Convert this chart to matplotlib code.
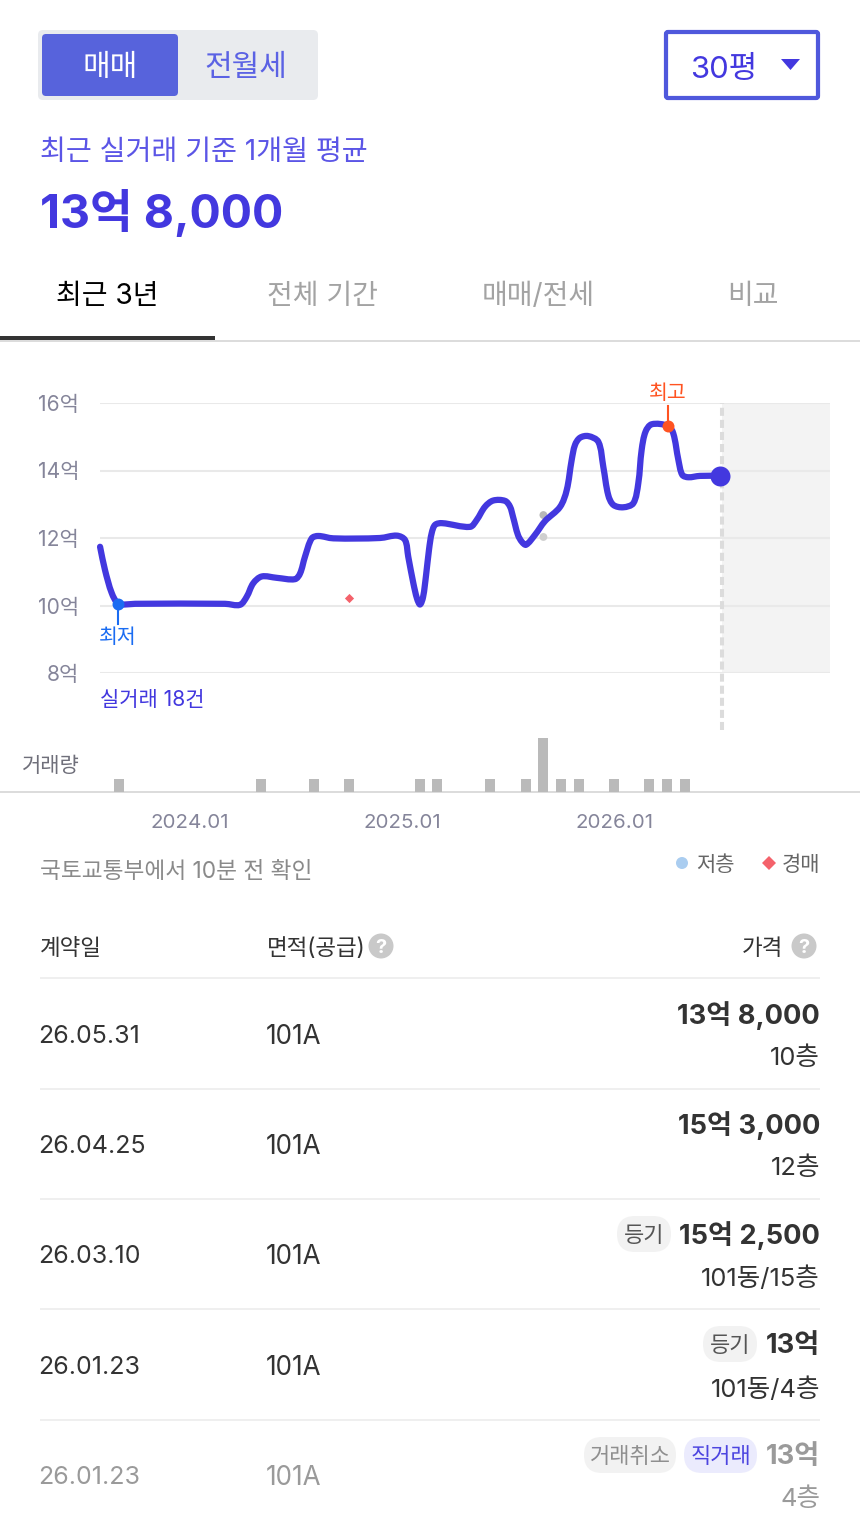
"""Apartment price panel: header, 3-year price line, volume bars, deal table."""
import matplotlib
matplotlib.use("Agg")
import matplotlib.pyplot as plt
from matplotlib.patches import Circle, FancyBboxPatch, PathPatch, Polygon, Rectangle
from matplotlib.path import Path

# Inter for digits and latin, the CJK family picks up the hangul
plt.rcParams["font.family"] = ["Inter", "Noto Sans CJK KR", "DejaVu Sans"]

# months are counted from 2024.01 = 0
curve_months = [-5.09, -4.81, -4.43, -4.07, -3.68, -3.11, 1.98, 2.83, 3.21, 3.58, 4.06, 4.91, 5.94,
                6.23, 6.51, 6.89, 7.26, 8.11, 10.75, 11.71, 12.17, 12.35, 12.64, 12.85, 13.02,
                13.19, 13.36, 13.53, 13.68, 13.87, 14.26, 15.85, 16.22, 16.70, 17.16, 17.83,
                18.11, 18.28, 18.56, 18.79, 19.02, 19.52, 20.09, 20.94, 21.32, 21.60, 21.79,
                22.07, 22.54, 23.11, 23.39, 23.67, 23.96, 24.52, 25.09, 25.37, 25.56, 25.78,
                26.13, 27.05, 27.35, 27.64, 27.86, 28.20, 28.86, 30.0]
curve_values = [11.74, 11.05, 10.37, 10.05, 10.03, 10.05, 10.05, 10.02, 10.26, 10.66, 10.86, 10.82, 10.78,
                10.95, 11.45, 11.99, 12.06, 11.99, 12.0, 12.07, 11.94, 11.45, 10.66, 10.20, 10.03,
                10.25, 10.90, 11.67, 12.15, 12.39, 12.44, 12.33, 12.53, 12.93, 13.11, 13.10,
                12.93, 12.63, 12.09, 11.88, 11.80, 12.09, 12.50, 12.92, 13.42, 14.31, 14.76,
                14.97, 15.02, 14.85, 14.11, 13.27, 12.98, 12.91, 13.03, 13.62, 14.61, 15.15,
                15.37, 15.32, 15.10, 14.31, 13.87, 13.80, 13.84, 13.84]
low_point = (-4.07, 10.05)
high_point = (27.05, 15.32)
last_point = (30.0, 13.84)
grey_months = [20.0, 20.0]
grey_values = [12.68, 12.03]
grey_colors = ["#b8b8b8", "#cfcfcf"]
auction_month = [9.0]
auction_value = [10.22]

volume_months = [-4, 4, 7, 9, 13, 14, 17, 19, 20, 21, 22, 24, 26, 27, 28]
volume_counts = [1, 1, 1, 1, 1, 1, 1, 1, 4, 1, 1, 1, 1, 1, 1]

y_ticks = [8, 10, 12, 14, 16]
y_labels = ["8억", "10억", "12억", "14억", "16억"]
x_ticks = [0, 12, 24]
x_labels = ["2024.01", "2025.01", "2026.01"]

tab_labels = ["최근 3년", "전체 기간", "매매/전세", "비교"]
deal_dates = ["26.05.31", "26.04.25", "26.03.10", "26.01.23", "26.01.23"]
deal_areas = ["101A", "101A", "101A", "101A", "101A"]
deal_prices = ["13억 8,000", "15억 3,000", "15억 2,500", "13억", "13억"]
deal_floors = ["10층", "12층", "101동/15층", "101동/4층", "4층"]

W, H = 860, 1530
INDIGO = "#4338df"
PX = 0.72  # px to pt at dpi 100

fig = plt.figure(figsize=(W / 100, H / 100), dpi=100, facecolor="white")
ui = fig.add_axes([0, 0, 1, 1], zorder=0)
ui.set_xlim(0, W)
ui.set_ylim(H, 0)
ui.axis("off")


def text(x, y, s, size, color="#333333", ha="left", weight="normal"):
    return ui.text(x, y, s, fontsize=size * PX, color=color, ha=ha, va="center_baseline",
                   fontweight=weight)


def rounded(x, y, w, h, r, fc, ec="none", lw=0):
    ui.add_patch(FancyBboxPatch((x + r, y + r), w - 2 * r, h - 2 * r,
                                boxstyle=f"round,pad={r},rounding_size={r}",
                                fc=fc, ec=ec, lw=lw))


def pill(x0, x1, yc, label, fc, color):
    rounded(x0, yc - 18, x1 - x0, 36, 18, fc)
    text((x0 + x1) / 2, yc, label, 22, color=color, ha="center")


def help_icon(x, y):
    ui.add_patch(Circle((x, y), 12.5, fc="#c9c9c9", ec="none"))
    text(x, y, "?", 20, color="white", ha="center", weight="bold")


# segmented control + size picker
rounded(38, 30, 280, 70, 5, "#e9ebee")
rounded(42, 34, 136, 62, 4, "#5763dc")
text(110, 65, "매매", 30, color="white", ha="center")
text(246, 65, "전월세", 30, color="#5b62e4", ha="center")
rounded(666, 32, 152, 66, 2, "white", ec="#4f58dc", lw=3 * PX * 1.4)
text(724, 67, "30평", 31, color=INDIGO, ha="center")
ui.add_patch(Polygon([(781, 59), (800, 59), (790.5, 70)], closed=True, fc=INDIGO, ec="none"))

# headline
text(40, 149, "최근 실거래 기준 1개월 평균", 28.2, color="#5b55e6")
text(40, 209, "13억 8,000", 46.5, color=INDIGO, weight="bold")

# tabs
for cx, label, col in zip([107, 322, 538, 753], tab_labels, ["black", "#a3a3a3", "#a3a3a3", "#a3a3a3"]):
    text(cx, 293, label, 28, color=col, ha="center")
ui.add_patch(Rectangle((0, 340), W, 2, fc="#dcdcdc", ec="none"))
ui.add_patch(Rectangle((0, 336), 215, 4, fc="#333333", ec="none"))

# line chart
px_per_month = 17.67
px_per_unit = 33.75
x_lim = ((100 - 190) / px_per_month, (830 - 190) / px_per_month)
ax = fig.add_axes([100 / W, 1 - 673 / H, 730 / W, 270 / H], zorder=2)
ax.patch.set_alpha(0)
ax.set_xlim(*x_lim)
ax.set_ylim(8, 16)
for s in ax.spines.values():
    s.set_visible(False)
ax.set_axisbelow(True)
ax.grid(axis="y", color="#e9e9e9", lw=1.5)
ax.set_xticks([])
ax.set_yticks(y_ticks, y_labels, fontsize=21 * PX, color="#85859a")
ax.tick_params(axis="y", length=0, pad=15)
ax.axvspan(last_point[0] + 0.1, x_lim[1], color="#f3f3f3", lw=0, zorder=0)
ax.plot([last_point[0] + 0.1] * 2, [6.31, 16], color="#dcdcdc", lw=2.9,
        dashes=(2.0, 1.0), clip_on=False, zorder=1.5)

# Bezier through the read points, tangents weighted by on-screen chord length
pts = list(zip(curve_months, curve_values))
chords = [(((b[0] - a[0]) * px_per_month) ** 2 + ((b[1] - a[1]) * px_per_unit) ** 2) ** 0.5
          for a, b in zip(pts[:-1], pts[1:])]
tangents = []
for i in range(len(pts)):
    lo, hi = max(i - 1, 0), min(i + 1, len(pts) - 1)
    span = sum(chords[lo:hi])
    tangents.append(((pts[hi][0] - pts[lo][0]) / span, (pts[hi][1] - pts[lo][1]) / span))
verts = [pts[0]]
codes = [Path.MOVETO]
for i, d in enumerate(chords):
    p1, p2 = pts[i], pts[i + 1]
    c1 = (p1[0] + tangents[i][0] * d / 3, p1[1] + tangents[i][1] * d / 3)
    c2 = (p2[0] - tangents[i + 1][0] * d / 3, p2[1] - tangents[i + 1][1] * d / 3)
    verts += [c1, c2, p2]
    codes += [Path.CURVE4] * 3
ax.add_patch(PathPatch(Path(verts, codes), fc="none", ec=INDIGO, lw=4.5, capstyle="round",
                       joinstyle="round", zorder=3, clip_on=False))
ax.scatter(grey_months, grey_values, s=32, c=grey_colors, lw=0, zorder=2)
ax.scatter(auction_month, auction_value, s=22, c="#f4626b", marker="D", lw=0, zorder=2)
ax.plot(*low_point, "o", ms=8.6, color="#1a6cf2", mew=0, zorder=4)
ax.plot(*high_point, "o", ms=8.6, color="#ff5321", mew=0, zorder=4)
ax.plot(*last_point, "o", ms=14.4, color=INDIGO, mew=0, zorder=4)

# low / high callouts
fg = fig.add_axes([0, 0, 1, 1], zorder=3)
fg.set_xlim(0, W)
fg.set_ylim(H, 0)
fg.axis("off")
fg.plot([118, 118], [604, 624], color="#1a6cf2", lw=1.5)
fg.plot([668, 668], [406, 426], color="#ff5321", lw=1.5)
text(118, 636, "최저", 20.5, color="#1a6cf2", ha="center")
text(668, 392, "최고", 20.5, color="#ff5321", ha="center")
text(100, 698, "실거래 18건", 21, color=INDIGO)

# volume bars
ui.add_patch(Rectangle((0, 791), W, 2, fc="#dcdcdc", ec="none"))
vol = fig.add_axes([100 / W, 1 - 792 / H, 730 / W, 54 / H], zorder=2)
vol.patch.set_alpha(0)
vol.bar(volume_months, volume_counts, width=10 / px_per_month, color="#bababa")
vol.set_xlim(*x_lim)
vol.set_ylim(0, 4)
for s in vol.spines.values():
    s.set_visible(False)
vol.set_yticks([])
vol.set_xticks(x_ticks, x_labels, fontsize=20.5 * PX, color="#85859a")
vol.tick_params(axis="x", length=0, pad=16)
text(80, 764, "거래량", 21, color="#6f6f7a", ha="right")

# source + legend
text(40, 869, "국토교통부에서 10분 전 확인", 22.7, color="#8a8a8a")
ui.add_patch(Circle((682, 863), 6, fc="#aacdf0", ec="none"))
text(696, 863, "저층", 21, color="#666666")
ui.add_patch(Polygon([(769, 856), (776, 863), (769, 870), (762, 863)], closed=True,
                     fc="#f4626b", ec="none"))
text(782, 863, "경매", 21, color="#666666")

# table header
text(40, 946, "계약일", 22.5)
text(267, 946, "면적(공급)", 22.5)
help_icon(381, 946)
text(783, 946, "가격", 22.5, ha="right")
help_icon(804, 946)

# table rows
line_ys = [977, 1088, 1198, 1308, 1419]
date_ys = [1034, 1144, 1254, 1365, 1475]
price_ys = [1013, 1123, 1233, 1343, 1454]
floor_ys = [1056, 1166, 1276, 1387, 1497]
for i, y0 in enumerate(line_ys):
    ui.add_patch(Rectangle((40, y0), 780, 2, fc="#efefef", ec="none"))
    body = "#9a9a9a" if i == 4 else "#333333"
    text(38.5, date_ys[i], deal_dates[i], 25, color=body)
    text(266, date_ys[i], deal_areas[i], 26, color=body)
    text(820, price_ys[i], deal_prices[i], 27.2, color=body, ha="right", weight="bold")
    text(820, floor_ys[i], deal_floors[i], 25.5, color=body, ha="right")

pill(617, 671, 1234, "등기", "#f2f2f2", "#555555")
pill(703, 757, 1344, "등기", "#f2f2f2", "#555555")
pill(584, 676, 1455, "거래취소", "#f2f2f2", "#8f8f8f")
pill(684, 757, 1455, "직거래", "#ebebfd", "#4d45e0")

fig.savefig("out.png", dpi=100, facecolor="white")
